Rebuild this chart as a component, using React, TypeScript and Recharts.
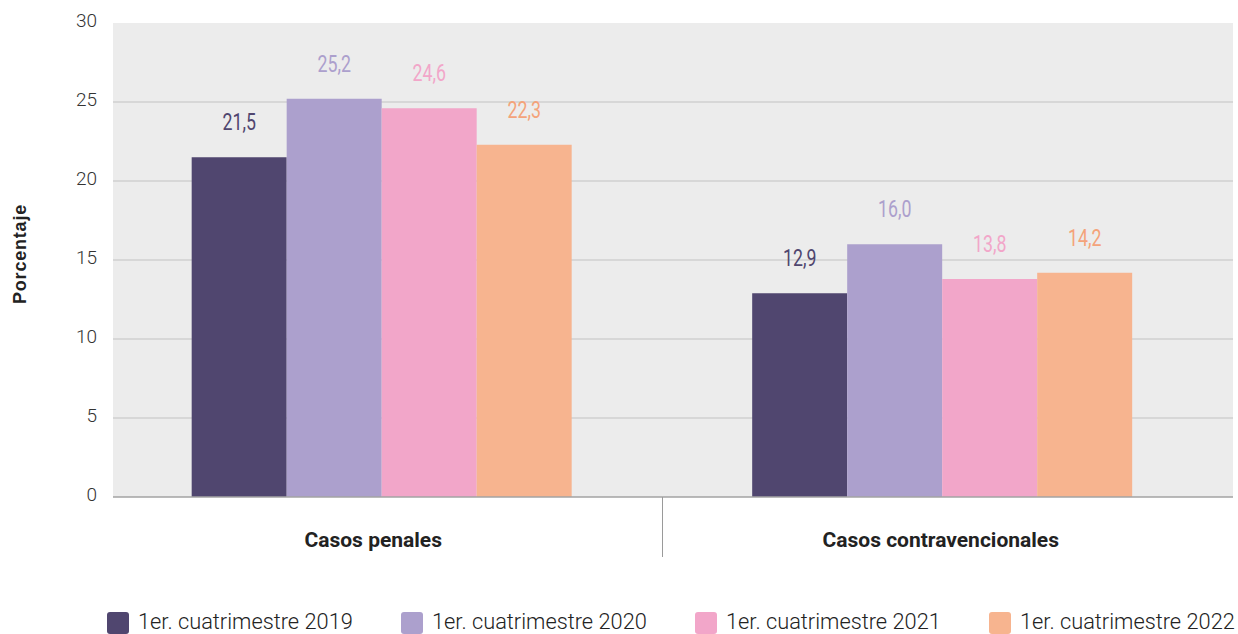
import React from 'react';
import { BarChart, Bar, XAxis, YAxis, CartesianGrid, LabelList, Legend } from 'recharts';

const categories = ['Casos penales', 'Casos contravencionales'];
const seriesNames = [
  '1er. cuatrimestre 2019',
  '1er. cuatrimestre 2020',
  '1er. cuatrimestre 2021',
  '1er. cuatrimestre 2022',
];
const seriesKeys = ['y2019', 'y2020', 'y2021', 'y2022'];
const values2019 = [21.5, 12.9];
const values2020 = [25.2, 16.0];
const values2021 = [24.6, 13.8];
const values2022 = [22.3, 14.2];
const yTicks = [0, 5, 10, 15, 20, 25, 30];
const gridValues = [5, 10, 15, 20, 25];
const colors = ['#50466f', '#aca0cd', '#f2a6c9', '#f7b48f'];
const labelColors = ['#50466f', '#aca0cd', '#f2a6c9', '#f4a37a'];
const yAxisTitle = 'Porcentaje';

const seriesValues = [values2019, values2020, values2021, values2022];
const data = categories.map((c, i) => {
  const row: any = { category: c };
  seriesKeys.forEach((k, s) => {
    row[k] = seriesValues[s][i];
  });
  return row;
});

const PLOT_W = 1120;
const PAD_L = -11;
const PAD_R = 10;
const BAND = (PLOT_W - PAD_L - PAD_R) / categories.length;
const TICK_SHIFT = [-9, -2];

const fmt = (v: number) => v.toFixed(1).replace('.', ',');

const CatTick = (props: any) => {
  const { x, y, payload, index } = props;
  return (
    <g>
      <text
        x={x + (TICK_SHIFT[index] || 0)}
        y={y + 50}
        textAnchor="middle"
        fontFamily="Roboto, sans-serif"
        fontWeight={700}
        fontSize={21}
        fill="#222"
      >
        {payload.value}
      </text>
      {index < categories.length - 1 && (
        <line x1={x + BAND / 2} x2={x + BAND / 2} y1={y} y2={y + 60} stroke="#9a9a9a" strokeWidth={1} />
      )}
    </g>
  );
};

const YTick = (props: any) => {
  const { x, y, payload } = props;
  return (
    <text
      x={x}
      y={y + 4}
      textAnchor="end"
      fontFamily="Roboto, sans-serif"
      fontWeight={300}
      fontSize={19}
      fill="#333"
    >
      {payload.value}
    </text>
  );
};

const makeLabel = (color: string) => (props: any) => {
  const { x, y, width, value } = props;
  const cx = x + width / 2;
  const by = y - 27;
  return (
    <text
      x={0}
      y={0}
      transform={`translate(${cx}, ${by}) scale(0.74, 1)`}
      textAnchor="middle"
      fontFamily="Roboto, sans-serif"
      fontWeight={400}
      fontSize={24}
      fill={color}
    >
      {fmt(value)}
    </text>
  );
};

const LegendContent = (props: any) => {
  const { payload } = props;
  return (
    <div style={{ display: 'flex', paddingLeft: 107 }}>
      {(payload || []).map((p: any, i: number) => (
        <div key={i} style={{ display: 'flex', alignItems: 'flex-start', width: 294, flexShrink: 0 }}>
          <div
            style={{
              width: 22,
              height: 22,
              background: p.color,
              borderRadius: 3,
              marginRight: 9,
              marginTop: 3,
              flexShrink: 0,
            }}
          />
          <span
            style={{
              fontFamily: 'Roboto, sans-serif',
              fontWeight: 300,
              fontSize: 21.8,
              lineHeight: '26px',
              color: '#222',
              whiteSpace: 'nowrap',
            }}
          >
            {p.value}
          </span>
        </div>
      ))}
    </div>
  );
};

export default function App() {
  return (
    <div style={{ position: 'absolute', left: 0, top: 0, width: 1238, height: 634, background: '#fff', overflow: 'hidden' }}>
      <BarChart
        width={1238}
        height={634}
        data={data}
        margin={{ top: 23, right: 5, left: 0, bottom: 77 }}
        barCategoryGap="16%"
        barGap={0}
      >
        <CartesianGrid
          vertical={false}
          horizontalValues={gridValues}
          fill="#ececec"
          stroke="#c2c2c2"
          strokeWidth={1.2}
        />
        <XAxis
          dataKey="category"
          height={60}
          padding={{ left: PAD_L, right: PAD_R }}
          axisLine={{ stroke: '#a3a3a3', strokeWidth: 1.5 }}
          tickLine={false}
          tickSize={0}
          tickMargin={0}
          tick={<CatTick />}
          interval={0}
        />
        <YAxis
          width={113}
          domain={[0, 30]}
          ticks={yTicks}
          axisLine={false}
          tickLine={false}
          tickSize={0}
          tickMargin={16}
          tick={<YTick />}
          label={(lp: any) => {
            const vb = lp.viewBox || { x: 0, y: 23, height: 474 };
            const cx = 20;
            const cy = vb.y + vb.height / 2 - 6;
            return (
              <text
                x={cx}
                y={cy}
                transform={`rotate(-90, ${cx}, ${cy})`}
                textAnchor="middle"
                dominantBaseline="central"
                fontFamily="'Liberation Sans', Arial, sans-serif"
                fontWeight={700}
                fontSize={18}
                letterSpacing={0.8}
                fill="#222"
              >
                {yAxisTitle}
              </text>
            );
          }}
        />
        <Legend
          verticalAlign="middle"
          align="center"
          layout="horizontal"
          wrapperStyle={{ top: 609, left: 0, width: 1238 }}
          content={<LegendContent />}
        />
        {seriesKeys.map((k, i) => (
          <Bar key={k} dataKey={k} name={seriesNames[i]} fill={colors[i]} isAnimationActive={false}>
            <LabelList dataKey={k} content={makeLabel(labelColors[i])} />
          </Bar>
        ))}
      </BarChart>
    </div>
  );
}
